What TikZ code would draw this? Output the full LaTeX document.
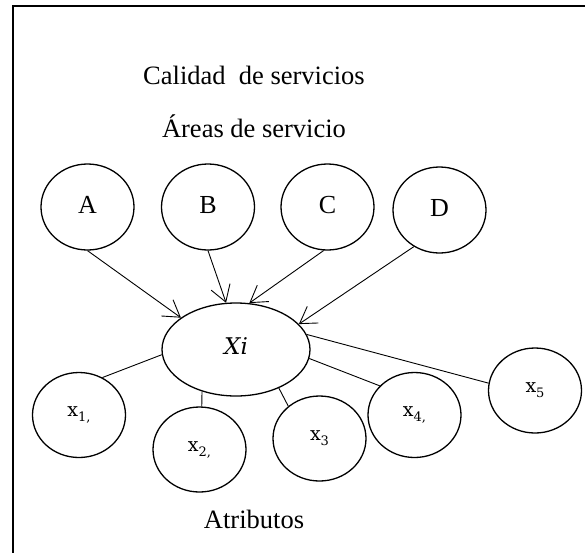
\documentclass[tikz,border=0pt]{standalone}
\usepackage{fontspec}
\setmainfont{Liberation Serif}
\newfontfamily\slabfont{DejaVu Serif}
\usetikzlibrary{shapes.geometric,arrows.meta}
\newcommand\xsub[2]{#1\raisebox{-5pt}{\fontsize{13}{13}\selectfont #2}}
\newcommand\upl[1]{\raisebox{5pt}{#1}}
\begin{document}
\begin{tikzpicture}[x=1pt,y=-1pt,
  circ/.style={ellipse,draw,line width=1.3pt,minimum width=93pt,minimum height=86pt,inner sep=0pt,font=\fontsize{26}{30}\selectfont},
  attr/.style={ellipse,draw,line width=1.3pt,minimum width=93pt,minimum height=85pt,inner sep=0pt,font=\slabfont\fontsize{19}{22}\selectfont},
  arr/.style={line width=0.9pt,-{Straight Barb[length=16pt,width=20pt,line width=0.9pt]}},
  link/.style={line width=0.9pt},
  title/.style={font=\fontsize{26.5}{30}\selectfont,anchor=base,inner sep=0pt}]
\useasboundingbox (0,0) rectangle (585,552);
\clip (0,0) rectangle (585,552);
\fill[white] (0,0) rectangle (585,552);
% frame
\coordinate (fbl) at (13,600);
\coordinate (ftl) at (13,6);
\coordinate (ftr) at (600,6);
\draw[line width=1.5pt] (fbl) -- (ftl) -- (ftr);
% titles
\node[title] (t1) at (254,84) {Calidad\ \ de servicios};
\node[title] (t2) at (254,137) {Áreas de servicio};
\node[title] (t3) at (254,528) {Atributos};
% areas
\node[circ] (A) at (87.5,207) {\upl{A}};
\node[circ] (B) at (208,207) {\upl{B}};
\node[circ] (C) at (327.5,207) {\upl{C}};
\node[circ] (D) at (439.5,210) {\upl{D}};
% central
\node[ellipse,draw,line width=1.3pt,minimum width=148pt,minimum height=93pt,inner sep=0pt,font=\slabfont\itshape\fontsize{23}{26}\selectfont] (Xi) at (236,349.5) {\raisebox{6pt}{Xi}};
% attributes
\node[attr] (x1) at (79,415) {\raisebox{4pt}{\xsub{x}{1,}}};
\node[attr] (x2) at (199.5,449.5) {\raisebox{4pt}{\xsub{x}{2,}}};
\node[attr] (x3) at (319.5,438.5) {\raisebox{4pt}{\xsub{x}{3}}};
\node[attr] (x4) at (414.5,415) {\raisebox{4pt}{\xsub{x}{4,}}};
\node[attr] (x5) at (535,390.5) {\raisebox{4pt}{\xsub{x}{5}}};
% arrows
\draw[arr] (A.south) -- (Xi.150);
\draw[arr] (B.south) -- (Xi.102);
\draw[arr] (C.-95) -- (Xi.74);
\draw[arr] (D.235) -- (Xi.22);
% links
\draw[link] (Xi.184) -- (x1.58);
\draw[link] (Xi.231) -- (x2.87);
\draw[link] (Xi.318) -- (x3.134);
\draw[link] (Xi.353) -- (x4.140);
\draw[link] (Xi.12) -- (x5.171);
\end{tikzpicture}
\end{document}
